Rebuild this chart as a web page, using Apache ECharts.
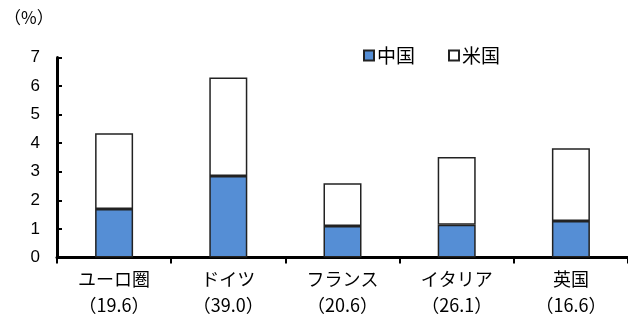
<!DOCTYPE html>
<html>
<head>
<meta charset="utf-8">
<script src="https://cdn.jsdelivr.net/npm/echarts@6/dist/echarts.min.js"></script>
<style>
  html, body { margin: 0; padding: 0; background: #fff; }
  #chart { width: 628px; height: 320px; }
</style>
</head>
<body>
<div id="chart"></div>
<script>
// Regions and the figure shown in parentheses under each name
const categories = ['ユーロ圏', 'ドイツ', 'フランス', 'イタリア', '英国'];
const shares = ['19.6', '39.0', '20.6', '26.1', '16.6'];
// Stacked contributions (%)
const chinaValues = [1.7, 2.85, 1.1, 1.15, 1.28];
const usValues = [2.65, 3.45, 1.5, 2.37, 2.54];
const yTicks = [0, 1, 2, 3, 4, 5, 6, 7];

const jpFont = '"Noto Sans CJK JP", sans-serif';
const chart = echarts.init(document.getElementById('chart'), null, { renderer: 'canvas' });

chart.setOption({
  animation: false,
  backgroundColor: '#ffffff',
  grid: { left: 57, right: 0, top: 57.5, bottom: 62.5, containLabel: false },
  graphic: [{
    type: 'text',
    left: 4, top: 9,
    style: { text: '（%）', fontFamily: jpFont, fontSize: 17, fill: '#000' }
  }],
  legend: {
    left: 358, top: 41,
    icon: 'rect',
    itemWidth: 10, itemHeight: 10,
    itemGap: 33,
    textStyle: { fontFamily: jpFont, fontSize: 19, color: '#000', padding: [0, 0, 0, -2] },
    data: ['中国', '米国']
  },
  xAxis: {
    type: 'category',
    data: categories,
    boundaryGap: true,
    axisLine: { lineStyle: { color: '#000', width: 3 } },
    axisTick: { show: true, length: 6, lineStyle: { color: '#000', width: 2 } },
    axisLabel: {
      interval: 0,
      margin: 9,
      fontFamily: jpFont,
      fontSize: 18,
      color: '#000',
      lineHeight: 26,
      formatter: function (v, i) { return v + '\n（' + shares[i] + '）'; }
    }
  },
  yAxis: {
    type: 'value',
    min: yTicks[0], max: yTicks[yTicks.length - 1], interval: 1,
    axisLine: { show: true, lineStyle: { color: '#000', width: 3 } },
    axisTick: { show: true, inside: true, length: 5, lineStyle: { color: '#000', width: 2 } },
    splitLine: { show: false },
    axisLabel: {
      margin: 17,
      fontFamily: '"Liberation Sans", Arial, sans-serif',
      fontSize: 17,
      color: '#000'
    }
  },
  series: [
    {
      name: '中国', type: 'bar', stack: 'total', barWidth: 38,
      data: chinaValues,
      itemStyle: { color: '#558ed5', borderColor: '#222', borderWidth: 1.5 }
    },
    {
      name: '米国', type: 'bar', stack: 'total', barWidth: 38,
      data: usValues,
      itemStyle: { color: '#ffffff', borderColor: '#222', borderWidth: 1.5 }
    }
  ]
});
</script>
</body>
</html>
